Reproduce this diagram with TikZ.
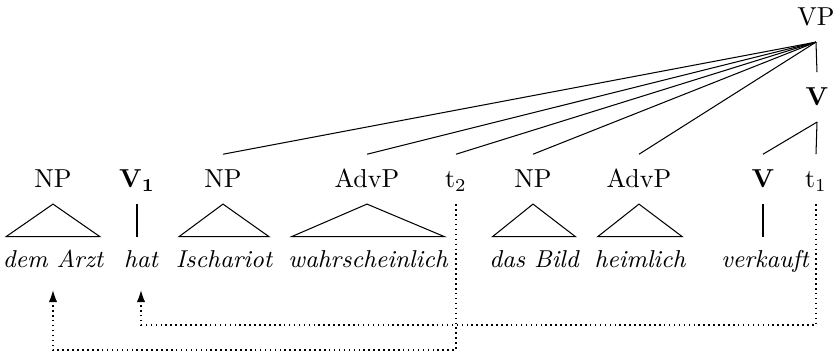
\documentclass[tikz,border=0pt]{standalone}
\usetikzlibrary{arrows.meta,calc}

\begin{document}
\begin{tikzpicture}[x=0.385pt, y=-0.385pt,
  cat/.style={anchor=base, text height=6.8pt, text depth=0pt, inner ysep=6pt, inner xsep=1pt},
  word/.style={anchor=base, font=\fontsize{9.4pt}{11pt}\selectfont\itshape, text height=7pt, text depth=3.5pt, inner ysep=4.9pt, inner xsep=0pt},
  trace/.style={dash pattern=on 0.6pt off 1.3pt, -{Latex[length=4.5pt,width=3.2pt]}}]
  \useasboundingbox (0,0) rectangle (837,358);
  \def\yc{188}\def\yw{268}
  % upper part of the tree
  \node[cat] (vp) at (816,26) {VP};
  \node[cat] (vbar) at (817,106) {\textbf{V}};
  % category row
  \foreach \n/\x/\lab in {np1/53/NP, v1/137/{\textbf{V\textsubscript{1}}}, np2/223/NP,
      advp1/367/AdvP, t2/456/{t\textsubscript{2}}, np3/533/NP, advp2/639/AdvP,
      v/763/{\textbf{V}}, t1/816/{t\textsubscript{1}}}
    \node[cat] (\n) at (\x,\yc) {\lab};
  % words
  \foreach \n/\x/\w in {arzt/53/dem Arzt, hat/141/hat, isch/224/Ischariot,
      wahr/368/wahrscheinlich, bild/534/das Bild, heim/640/heimlich, verk/765/verkauft}
    \node[word] (\n) at (\x,\yw) {\w};
  % branches
  \foreach \c in {np2,advp1,t2,np3,advp2} \draw (vp.south) -- (\c.north);
  \draw (vp.south) -- (vbar.north);
  \draw (vbar.south) -- (v.north);
  \draw (vbar.south) -- (t1.north);
  \draw (v1.south) -- (v1.south |- hat.north);
  \draw (v.south) -- (v.south |- verk.north);
  \foreach \c/\w in {np1/arzt, np2/isch, advp1/wahr, np3/bild, advp2/heim}
    \draw (\c.south) -- ([xshift=1.5pt]\w.north west) -- ([xshift=-1.5pt]\w.north east) -- cycle;
  % traces
  \coordinate (low1) at (0,325);
  \coordinate (low2) at (0,350);
  \draw[trace] (t1.south) -- (t1.south |- low1) -| (hat.south);
  \draw[trace] (t2.south) -- (t2.south |- low2) -| (arzt.south);
\end{tikzpicture}
\end{document}
